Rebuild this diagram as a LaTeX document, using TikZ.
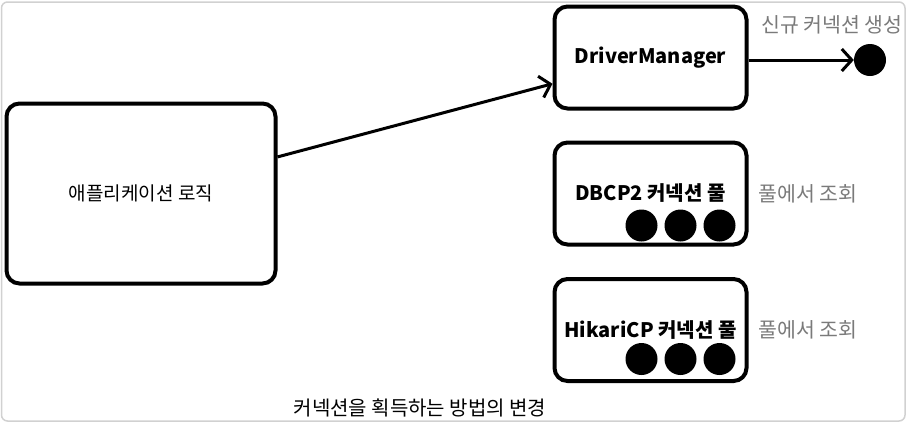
\documentclass[tikz,border=0pt]{standalone}
\usepackage{fontspec}
\setmainfont{Noto Sans CJK KR}
\usetikzlibrary{
  arrows.meta,
  calc,
  positioning
}
\tikzset{
  % For the light outer frame.
  frame/.style={
    draw=black!18,
    line width=1.5pt,
    rounded corners=6pt},
%
  % For the thick rounded boxes.
  block/.style={
    draw,
    line width=4pt,
    rounded corners=13pt,
    inner sep=0pt,
    minimum width=192pt,
    minimum height=102pt,
    font=\fontsize{20pt}{24pt}\selectfont\bfseries},
%
  % For fat dots (connections).
  dot/.style={
    circle,
    fill,
    inner sep=0pt,
    minimum size=32pt},
%
  % For grey side notes.
  note/.style={
    text=black!52,
    inner sep=0pt,
    font=\fontsize{20.5pt}{24pt}\selectfont},
%
  % For plain captions.
  caption/.style={
    inner sep=0pt,
    font=\fontsize{20pt}{24pt}\selectfont},
%
  % For curves with one arrow.
  direction/.style={
    line width=3pt,
    -{Straight Barb[length=10pt,width=22pt,line width=3pt]}}
}

\begin{document}
\begin{tikzpicture}[x=1pt,y=-1pt]
  \useasboundingbox (0,0) rectangle (909,424);
  \draw[frame] (1.5,2) rectangle (905,421);

  \node[block,
        font=\fontsize{19pt}{24pt}\selectfont,
        minimum width=269pt,
        minimum height=180pt] (app) at (141,193.5) {애플리케이션 로직};

  \node[block] (dm) at (650.5,57.5) {DriverManager};
  \node[block] (dbcp) at (650.5,193.5) {DBCP2 커넥션 풀};
  \node[block] (hikari) at (650.5,330) {HikariCP 커넥션 풀};

  \node[dot] (conn) at (870,60) {};
  \node[note] (new conn) at (832,25) {신규 커넥션 생성};

  \node[dot] (dbcp c1) at ($(dbcp.south east) + (-107,-21)$) {};
  \node[dot] (dbcp c2) at ($(dbcp.south east) + (-68,-21)$) {};
  \node[dot] (dbcp c3) at ($(dbcp.south east) + (-29,-21)$) {};

  \node[dot] (hikari c1) at ($(hikari.south east) + (-107,-24)$) {};
  \node[dot] (hikari c2) at ($(hikari.south east) + (-68,-24)$) {};
  \node[dot] (hikari c3) at ($(hikari.south east) + (-29,-24)$) {};

  \node[note, right=10pt of dbcp] (dbcp lookup) {풀에서 조회};
  \node[note, right=10pt of hikari] (hikari lookup) {풀에서 조회};

  \draw[direction] (app.15) -- (dm.195);
  \draw[direction] (dm.east |- conn) -- (conn.west);

  \node[caption] (title) at (420,408) {커넥션을 획득하는 방법의 변경};
\end{tikzpicture}
\end{document}
